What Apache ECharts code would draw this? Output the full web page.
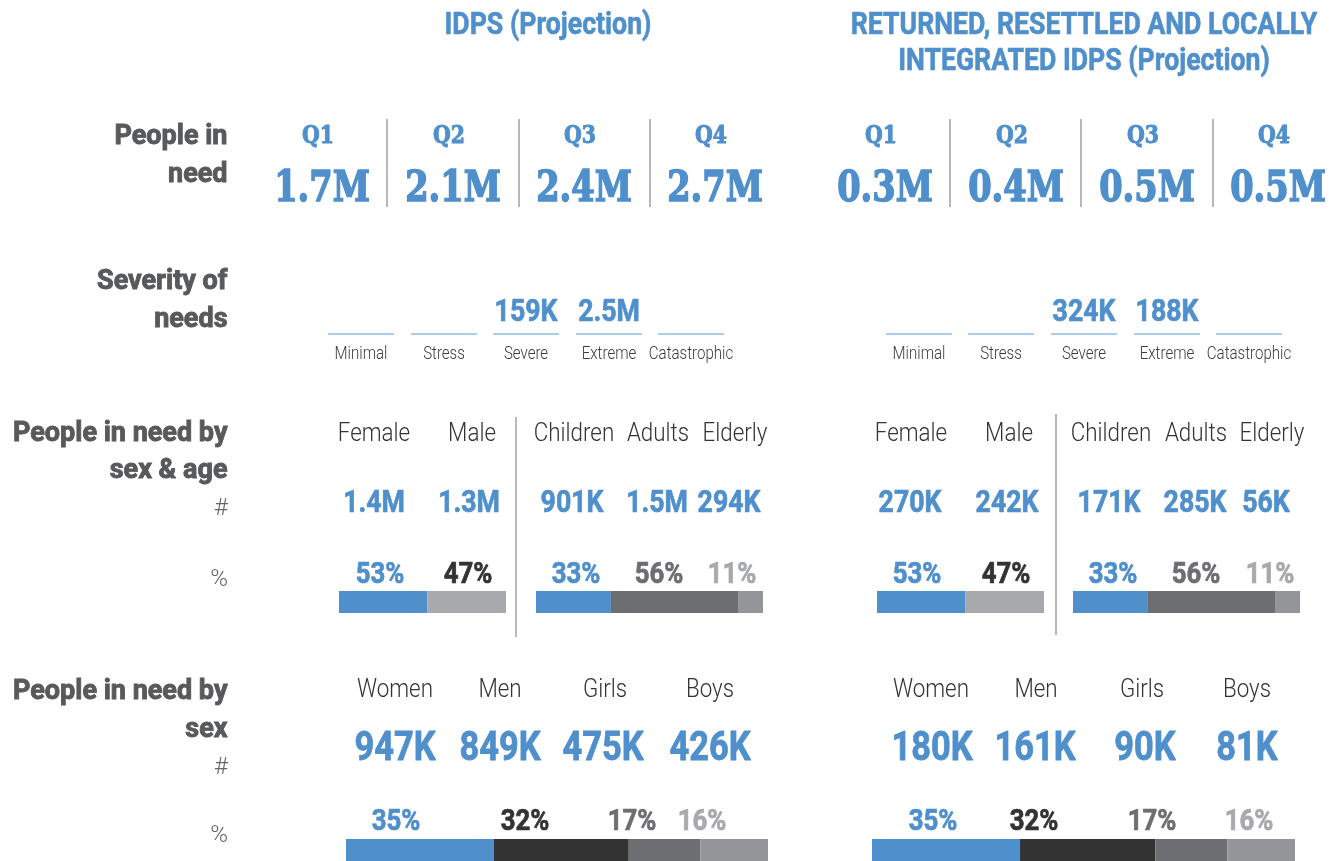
<!DOCTYPE html>
<html>
<head>
<meta charset="utf-8">
<script src="https://cdn.jsdelivr.net/npm/echarts@6/dist/echarts.min.js"></script>
<style>
html,body{margin:0;padding:0;background:#fff;}
#c{width:1343px;height:861px;}
</style>
</head>
<body>
<div id="c"></div>
<script>
// ---------- DATA ----------
const panelTitles = [['IDPS (Projection)'], ['RETURNED, RESETTLED AND LOCALLY', 'INTEGRATED IDPS (Projection)']];
const rowLabels = [['People in', 'need'], ['Severity of', 'needs'], ['People in need by', 'sex & age'], ['People in need by', 'sex']];
const unitLabels = ['#', '%'];
const quarters = ['Q1', 'Q2', 'Q3', 'Q4'];
const pinIdps = ['1.7M', '2.1M', '2.4M', '2.7M'];
const pinReturned = ['0.3M', '0.4M', '0.5M', '0.5M'];
const severityCats = ['Minimal', 'Stress', 'Severe', 'Extreme', 'Catastrophic'];
const severityIdps = ['', '', '159K', '2.5M', ''];
const severityReturned = ['', '', '324K', '188K', ''];
const sexCats = ['Female', 'Male'];
const ageCats = ['Children', 'Adults', 'Elderly'];
const sexIdps = ['1.4M', '1.3M'];
const sexPctIdps = [53, 47];
const ageIdps = ['901K', '1.5M', '294K'];
const agePctIdps = [33, 56, 11];
const sexReturned = ['270K', '242K'];
const sexPctReturned = [53, 47];
const ageReturned = ['171K', '285K', '56K'];
const agePctReturned = [33, 56, 11];
const groupCats = ['Women', 'Men', 'Girls', 'Boys'];
const groupIdps = ['947K', '849K', '475K', '426K'];
const groupPctIdps = [35, 32, 17, 16];
const groupReturned = ['180K', '161K', '90K', '81K'];
const groupPctReturned = [35, 32, 17, 16];

// ---------- LAYOUT / STYLE ----------
const BLUE = '#4f8fcc';
const LINEBLUE = '#5b9bd5';
const panels = [
  {
    title: panelTitles[0], titleX: 548,
    q: quarters, pin: pinIdps, qX: [318, 449, 580, 711], qDiv: [387, 519, 650],
    sev: severityIdps, sevX: [361, 444, 526, 609, 691],
    sexV: sexIdps, sexP: sexPctIdps, ageV: ageIdps, ageP: agePctIdps,
    sexLX: [374, 472], sexVX: [374, 469], sexPX: [380, 468],
    ageLX: [574, 658, 735], ageVX: [572, 657, 729], agePX: [576, 659, 732],
    sexBar: [339, 506], ageBar: [536, 763], div: [516, 417, 637],
    grpV: groupIdps, grpP: groupPctIdps,
    grpLX: [395, 500, 605, 710], grpVX: [395, 500, 603, 710], grpPX: [396, 525, 632, 702], grpBar: [346, 768]
  },
  {
    title: panelTitles[1], titleX: 1084,
    q: quarters, pin: pinReturned, qX: [881, 1012, 1143, 1274], qDiv: [950, 1081, 1213],
    sev: severityReturned, sevX: [919, 1001, 1084, 1167, 1249],
    sexV: sexReturned, sexP: sexPctReturned, ageV: ageReturned, ageP: agePctReturned,
    sexLX: [911, 1009], sexVX: [910, 1007], sexPX: [917, 1006],
    ageLX: [1111, 1196, 1272], ageVX: [1109, 1195, 1266], agePX: [1113, 1196, 1270],
    sexBar: [877, 1044], ageBar: [1073, 1300], div: [1056, 414, 635],
    grpV: groupReturned, grpP: groupPctReturned,
    grpLX: [931, 1036, 1142, 1247], grpVX: [932, 1035, 1145, 1247], grpPX: [933, 1034, 1152, 1249], grpBar: [872, 1295]
  }
];
const sexBarColors = [BLUE, '#a7a9ac'];
const ageBarColors = [BLUE, '#6d6e71', '#939598'];
const grpBarColors = [BLUE, '#333333', '#6d6e71', '#939598'];
const sexPctColors = [BLUE, '#333333'];
const agePctColors = [BLUE, '#6d6e71', '#a7a9ac'];
const grpPctColors = [BLUE, '#333333', '#6d6e71', '#a7a9ac'];

const COND = 0.86;
const DY = 2; // visual centring offset
function txt(x, y, text, o) {
  o = o || {};
  const align = o.align || 'center';
  const fill = o.fill || BLUE;
  const st = {
    text: text, x: 0, y: 0,
    fill: fill,
    font: (o.weight || 'bold') + ' ' + (o.size || 30) + 'px ' + (o.family || 'Roboto'),
    align: align, textAlign: align,
    verticalAlign: 'middle', textVerticalAlign: 'middle'
  };
  if (o.stroke) { st.stroke = fill; st.lineWidth = o.stroke; }
  return { type: 'text', x: x, y: y + DY, scaleX: o.sx == null ? COND : o.sx, silent: true, style: st };
}
function line(x1, y1, x2, y2, color, w) {
  return { type: 'line', silent: true, shape: { x1, y1, x2, y2 }, style: { stroke: color, lineWidth: w || 1 } };
}

const graphics = [];
const grids = [], xAxes = [], yAxes = [], series = [];

function addBar(values, colors, x0, x1, top, h) {
  const gi = grids.length;
  grids.push({ left: x0, top: top, width: x1 - x0, height: h, containLabel: false });
  xAxes.push({ type: 'value', gridIndex: gi, min: 0, max: values.reduce((a, b) => a + b, 0), show: false });
  yAxes.push({ type: 'category', gridIndex: gi, data: [''], show: false });
  values.forEach((v, i) => {
    series.push({
      type: 'bar', stack: 'st' + gi, xAxisIndex: gi, yAxisIndex: gi, data: [v],
      barWidth: '100%', itemStyle: { color: colors[i] }, silent: true
    });
  });
}

// Row labels
const LABEL_R = 228, LABEL_C = '#58595b';
const rowY = [[135, 173], [280, 318], [432, 469], [690, 728]];
rowLabels.forEach((lines, r) => {
  lines.forEach((t, k) => graphics.push(txt(LABEL_R - 0.5, rowY[r][k], t, { align: 'right', size: 27, fill: LABEL_C, sx: 1, stroke: 0.9 })));
});
[[507, 578], [766, 834]].forEach(ys => {
  ys.forEach((y, k) => graphics.push(txt(LABEL_R, y, unitLabels[k], { align: 'right', size: 24, weight: '300', fill: '#666', sx: 1 })));
});

panels.forEach(p => {
  // title
  p.title.forEach((t, k) => graphics.push(txt(p.titleX, 24 + k * 36, t, { size: 31, stroke: 0.6 })));
  // quarters
  p.q.forEach((q, i) => {
    graphics.push(txt(p.qX[i], 135, q, { size: 24, family: '"DejaVu Serif"', sx: 0.85, stroke: 1 }));
    graphics.push(txt(p.qX[i] + 4, 188, p.pin[i], { size: 42, family: '"DejaVu Serif"', sx: 0.8, stroke: 1.6 }));
  });
  p.qDiv.forEach(x => graphics.push(line(x, 119, x, 207, '#a0a0a0', 1.5)));
  // severity
  severityCats.forEach((c, i) => {
    const cx = p.sevX[i];
    graphics.push(line(cx - 33, 334, cx + 33, 334, LINEBLUE, 1));
    graphics.push(txt(cx, 353, c, { size: 17.5, weight: '300', fill: '#3a3a3a' }));
    if (p.sev[i]) graphics.push(txt(cx, 311, p.sev[i], { size: 31, stroke: 0.7 }));
  });
  // sex & age
  sexCats.forEach((c, i) => {
    graphics.push(txt(p.sexLX[i], 432, c, { size: 26, weight: '300', fill: '#333' }));
    graphics.push(txt(p.sexVX[i], 502, p.sexV[i], { size: 31, stroke: 0.7 }));
    graphics.push(txt(p.sexPX[i], 573, p.sexP[i] + '%', { size: 30, fill: sexPctColors[i], stroke: 0.7 }));
  });
  ageCats.forEach((c, i) => {
    graphics.push(txt(p.ageLX[i], 432, c, { size: 26, weight: '300', fill: '#333' }));
    graphics.push(txt(p.ageVX[i], 502, p.ageV[i], { size: 31, stroke: 0.7 }));
    graphics.push(txt(p.agePX[i], 573, p.ageP[i] + '%', { size: 30, fill: agePctColors[i], stroke: 0.7 }));
  });
  graphics.push(line(p.div[0], p.div[1], p.div[0], p.div[2], '#a0a0a0', 1.5));
  addBar(p.sexP, sexBarColors, p.sexBar[0], p.sexBar[1], 591, 22);
  addBar(p.ageP, ageBarColors, p.ageBar[0], p.ageBar[1], 591, 22);
  // groups
  groupCats.forEach((c, i) => {
    graphics.push(txt(p.grpLX[i], 688, c, { size: 26, weight: '300', fill: '#333' }));
    graphics.push(txt(p.grpVX[i], 748, p.grpV[i], { size: 40, stroke: 0.8 }));
    graphics.push(txt(p.grpPX[i], 820, p.grpP[i] + '%', { size: 30, fill: grpPctColors[i], stroke: 0.7 }));
  });
  addBar(p.grpP, grpBarColors, p.grpBar[0], p.grpBar[1], 839, 26);
});

const chart = echarts.init(document.getElementById('c'), null, { renderer: 'canvas' });
chart.setOption({
  backgroundColor: '#ffffff',
  animation: false,
  grid: grids, xAxis: xAxes, yAxis: yAxes, series: series,
  graphic: { elements: graphics }
});
</script>
</body>
</html>
